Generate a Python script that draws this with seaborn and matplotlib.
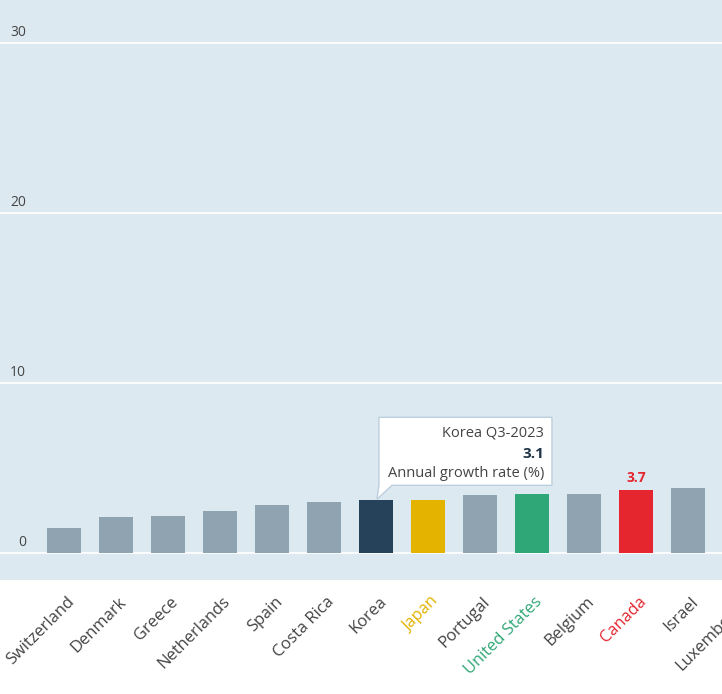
import matplotlib
matplotlib.use("Agg")
import matplotlib.pyplot as plt
import matplotlib.transforms as mtransforms
from matplotlib.patches import Polygon
import seaborn as sns
import pandas as pd

# ---- data ----
countries = ["Switzerland", "Denmark", "Greece", "Netherlands", "Spain", "Costa Rica",
             "Korea", "Japan", "Portugal", "United States", "Belgium", "Canada",
             "Israel", "Luxembourg"]
values = [1.5, 2.1, 2.2, 2.5, 2.8, 3.0, 3.1, 3.1, 3.4, 3.5, 3.5, 3.7, 3.8, 3.9]
yticks = [0, 10, 20, 30]
highlight_colors = {"Korea": "#26415a", "Japan": "#e3b300", "United States": "#30a776",
                    "Canada": "#e5262f"}
label_colors = {"Japan": "#e3b300", "United States": "#30a776", "Canada": "#e5262f"}
tooltip_country = "Korea"
tooltip_period = "Q3-2023"
tooltip_measure = "Annual growth rate (%)"
value_label_country = "Canada"

BASE = "#8fa4b0"
BG = "#dde9f1"
TXT = "#444444"

sns.set_style("white", {"axes.facecolor": BG})
plt.rcParams["font.family"] = ["Open Sans", "DejaVu Sans"]

W, H = 722, 694
fig = plt.figure(figsize=(W / 100, H / 100), dpi=100)

# axes geometry (pixels)
x0_px, step_px = 64.0, 52.0
xmin, xmax = -1.23, 13.8
ax_w_px = x0_px + step_px * xmax - (x0_px + step_px * xmin)
ax_bottom_px = 580
ax = fig.add_axes([0, (H - ax_bottom_px) / H, ax_w_px / W, ax_bottom_px / H])

df = pd.DataFrame({"country": countries, "value": values})
palette = {c: highlight_colors.get(c, BASE) for c in countries}
sns.barplot(data=df, x="country", y="value", hue="country", palette=palette,
            width=0.67, legend=False, ax=ax, saturation=1, linewidth=0)

ax.set_xlim(xmin, xmax)
ax.set_ylim(-27 / 17, 553 / 17)
ax.set_yticks(yticks)
ax.set_yticklabels([])
ax.tick_params(axis="y", length=0)
ax.grid(axis="y", color="white", linewidth=1.2)
ax.set_axisbelow(True)
for s in ax.spines.values():
    s.set_visible(False)
ax.set_xlabel("")
ax.set_ylabel("")

# y tick labels drawn above grid lines, inside plot
for v in yticks:
    ax.annotate(str(v), xy=(-0.73, v), xytext=(0, 5), textcoords="offset points",
                ha="right", va="baseline", fontsize=10, color=TXT)

# x tick labels
ax.set_xticks(range(len(countries)))
ax.set_xticklabels(countries, rotation=45, ha="right", va="center",
                   rotation_mode="anchor", fontsize=11.9)
ax.tick_params(axis="x", length=0, pad=14)
off = mtransforms.ScaledTranslation(8 / 100, 0, fig.dpi_scale_trans)
for lbl in ax.get_xticklabels():
    lbl.set_color(label_colors.get(lbl.get_text(), TXT))
    lbl.set_transform(lbl.get_transform() + off)

# value label for Canada
ci = countries.index(value_label_country)
ax.annotate(f"{values[ci]:.1f}", xy=(ci, values[ci]), xytext=(0, 4),
            textcoords="offset points", ha="center", va="bottom", fontsize=10,
            fontweight="bold", color=highlight_colors[value_label_country])

# tooltip for Korea
ki = countries.index(tooltip_country)
fig.canvas.draw()
tip_disp = ax.transData.transform((ki, values[ki]))
tr = mtransforms.Affine2D().translate(tip_disp[0], tip_disp[1])
box = [(3, 15), (3, 83), (176, 83), (176, 15), (16, 15), (1, 1), (3, 15)]
poly = Polygon(box, closed=True, facecolor="white", edgecolor="#bccfdc",
               linewidth=1, transform=tr, zorder=10, clip_on=False)
ax.add_patch(poly)
tx = 168
ax.text(tx, 67, f"{tooltip_country} {tooltip_period}", transform=tr, ha="right",
        va="center", fontsize=10.5, color=TXT, zorder=11)
ax.text(tx, 46, f"{values[ki]:.1f}", transform=tr, ha="right", va="center",
        fontsize=11, fontweight="bold", color="#1f3347", zorder=11)
ax.text(tx, 27, tooltip_measure, transform=tr, ha="right", va="center",
        fontsize=10.5, color=TXT, zorder=11)

fig.savefig("out.png", dpi=100, facecolor="white")
